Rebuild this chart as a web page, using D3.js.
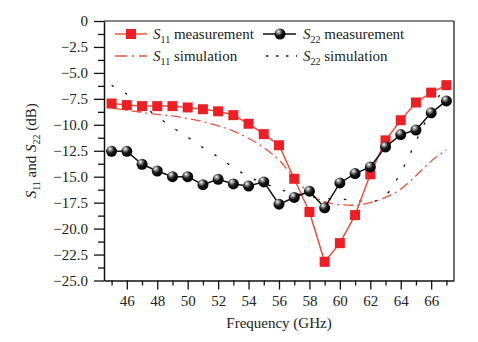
<!DOCTYPE html>
<html>
<head>
<meta charset="utf-8">
<script src="https://cdn.jsdelivr.net/npm/d3@7"></script>
<style>
  html, body { margin: 0; padding: 0; background: #fff; }
  svg { display: block; }
  text { font-family: "Liberation Serif", "Times New Roman", serif; fill: #222; }
</style>
</head>
<body>
<svg id="chart" width="478" height="342"></svg>
<script>
// Frequency points (GHz)
const freq = [45,46,47,48,49,50,51,52,53,54,55,56,57,58,59,60,61,62,63,64,65,66,67];

// Measured reflection coefficients (dB)
const s11Meas = [-7.95,-8.1,-8.2,-8.2,-8.2,-8.33,-8.5,-8.7,-9.07,-9.9,-10.9,-11.97,-15.2,-18.4,-23.2,-21.4,-18.7,-14.77,-11.5,-9.56,-7.85,-6.9,-6.18];
const s22Meas = [-12.55,-12.55,-13.8,-14.45,-15.0,-15.0,-15.77,-15.25,-15.7,-15.9,-15.5,-17.65,-17.0,-16.4,-18.0,-15.6,-14.7,-14.06,-12.13,-10.94,-10.5,-8.85,-7.7];

// Simulated reflection coefficients (dB)
const s11Sim = [-8.4,-8.6,-8.8,-9.0,-9.15,-9.4,-9.7,-10.1,-10.6,-11.3,-12.2,-13.4,-15.1,-16.6,-17.4,-17.7,-17.75,-17.5,-17.0,-16.2,-14.9,-13.5,-12.4];
const s22Sim = [-6.2,-7.05,-8.1,-9.2,-10.25,-11.2,-12.2,-13.1,-14.1,-15.0,-15.6,-16.2,-16.6,-16.9,-17.1,-17.15,-17.3,-17.4,-16.8,-14.6,-11.6,-8.6,-6.0];

// Axis ticks
const xMajorTicks = [46,48,50,52,54,56,58,60,62,64,66];
const xMinorTicks = [45,47,49,51,53,55,57,59,61,63,65,67];
const yMajorTicks = [0,-2.5,-5,-7.5,-10,-12.5,-15,-17.5,-20,-22.5,-25];
const yMinorTicks = [-1.25,-3.75,-6.25,-8.75,-11.25,-13.75,-16.25,-18.75,-21.25,-23.75];

const svg = d3.select("#chart");
const L = 104, R = 454, T = 21, B = 280.5;

const x = d3.scaleLinear().domain([44.5, 67.5]).range([L, R]);
const y = d3.scaleLinear().domain([-25, 0]).range([B, T]);

const RED = "#ee1f24";
const RED_LINE = "#f0503a";

// Sphere shading for the S22 markers
const defs = svg.append("defs");
const grad = defs.append("radialGradient").attr("id", "ball")
  .attr("cx", "38%").attr("cy", "32%").attr("r", "65%").attr("fx", "35%").attr("fy", "28%");
grad.append("stop").attr("offset", "0%").attr("stop-color", "#ffffff");
grad.append("stop").attr("offset", "22%").attr("stop-color", "#9a9a9a");
grad.append("stop").attr("offset", "55%").attr("stop-color", "#1a1a1a");
grad.append("stop").attr("offset", "100%").attr("stop-color", "#000000");

// Frame: top and right edges
svg.append("line").attr("x1", L).attr("x2", R).attr("y1", T).attr("y2", T)
  .attr("stroke", "#111").attr("stroke-width", 1.2);
svg.append("line").attr("x1", R).attr("x2", R).attr("y1", T).attr("y2", B)
  .attr("stroke", "#111").attr("stroke-width", 1.2);

// Axes
const fmtY = d => d === 0 ? "0" : d3.format(".1f")(d);

const yAxis = svg.append("g").attr("transform", `translate(${L},0)`)
  .call(d3.axisLeft(y).tickValues(yMajorTicks).tickFormat(fmtY).tickSize(10).tickPadding(6).tickSizeOuter(0));
svg.append("g").attr("transform", `translate(${L},0)`)
  .call(d3.axisLeft(y).tickValues(yMinorTicks).tickFormat("").tickSize(6).tickSizeOuter(0))
  .select(".domain").remove();

const xAxis = svg.append("g").attr("transform", `translate(0,${B})`)
  .call(d3.axisBottom(x).tickValues(xMajorTicks).tickFormat(d3.format("d")).tickSize(9).tickPadding(6).tickSizeOuter(0));
svg.append("g").attr("transform", `translate(0,${B})`)
  .call(d3.axisBottom(x).tickValues(xMinorTicks).tickFormat("").tickSize(5).tickSizeOuter(0))
  .select(".domain").remove();

svg.selectAll(".tick line").attr("stroke", "#111").attr("stroke-width", 1.3);
svg.selectAll(".domain").attr("stroke", "#111").attr("stroke-width", 1.5);
svg.selectAll(".tick text").attr("font-family", "Liberation Serif, serif").attr("font-size", 15).attr("fill", "#222");

// Axis titles
svg.append("text").attr("x", (L + R) / 2).attr("y", 328).attr("text-anchor", "middle")
  .attr("font-size", 15).text("Frequency (GHz)");

const yl = svg.append("text").attr("transform", `translate(36,${(T + B) / 2}) rotate(-90)`)
  .attr("text-anchor", "middle").attr("font-size", 15);
function sParam(t, sub, rest) {
  t.append("tspan").attr("font-style", "italic").text("S");
  t.append("tspan").attr("font-size", 10).attr("dy", 4).text(sub);
  t.append("tspan").attr("dy", -4).text(rest);
}
sParam(yl, "11", " and ");
yl.append("tspan").attr("font-style", "italic").text("S");
yl.append("tspan").attr("font-size", 10).attr("dy", 4).text("22");
yl.append("tspan").attr("dy", -4).text(" (dB)");

// Series
const pts = vals => freq.map((f, i) => [f, vals[i]]);
const line = d3.line().x(d => x(d[0])).y(d => y(d[1]));
const smooth = d3.line().x(d => x(d[0])).y(d => y(d[1])).curve(d3.curveMonotoneX);

svg.append("path").datum(pts(s22Sim)).attr("d", smooth)
  .attr("fill", "none").attr("stroke", "#111").attr("stroke-width", 1.3)
  .attr("stroke-dasharray", "2.5,13");
svg.append("path").datum(pts(s11Sim)).attr("d", smooth)
  .attr("fill", "none").attr("stroke", RED_LINE).attr("stroke-width", 1.3)
  .attr("stroke-dasharray", "10,4,2,4");

svg.append("path").datum(pts(s11Meas)).attr("d", line)
  .attr("fill", "none").attr("stroke", RED_LINE).attr("stroke-width", 1.5);
svg.selectAll("rect.s11").data(pts(s11Meas)).enter().append("rect").attr("class", "s11")
  .attr("x", d => x(d[0]) - 5).attr("y", d => y(d[1]) - 5)
  .attr("width", 10).attr("height", 10).attr("fill", RED);

svg.append("path").datum(pts(s22Meas)).attr("d", line)
  .attr("fill", "none").attr("stroke", "#111").attr("stroke-width", 1.5);
svg.selectAll("circle.s22").data(pts(s22Meas)).enter().append("circle").attr("class", "s22")
  .attr("cx", d => x(d[0])).attr("cy", d => y(d[1])).attr("r", 5.5).attr("fill", "url(#ball)");

// Legend
const legend = svg.append("g");
function legendText(xp, yp, sub, rest) {
  const t = legend.append("text").attr("x", xp).attr("y", yp + 5).attr("font-size", 15);
  sParam(t, sub, rest);
}
// S11 measurement
legend.append("line").attr("x1", 115).attr("x2", 147).attr("y1", 34).attr("y2", 34)
  .attr("stroke", RED_LINE).attr("stroke-width", 1.5);
legend.append("rect").attr("x", 126).attr("y", 29).attr("width", 10).attr("height", 10).attr("fill", RED);
legendText(153, 34, "11", " measurement");
// S11 simulation
legend.append("line").attr("x1", 115).attr("x2", 147).attr("y1", 56).attr("y2", 56)
  .attr("stroke", RED_LINE).attr("stroke-width", 1.3).attr("stroke-dasharray", "12,5,2,5");
legendText(153, 56, "11", " simulation");
// S22 measurement
legend.append("line").attr("x1", 263).attr("x2", 296).attr("y1", 34).attr("y2", 34)
  .attr("stroke", "#111").attr("stroke-width", 1.5);
legend.append("circle").attr("cx", 280).attr("cy", 34).attr("r", 5.5).attr("fill", "url(#ball)");
legendText(303, 34, "22", " measurement");
// S22 simulation
legend.append("line").attr("x1", 266).attr("x2", 297).attr("y1", 56).attr("y2", 56)
  .attr("stroke", "#111").attr("stroke-width", 1.3).attr("stroke-dasharray", "2.5,7.5");
legendText(303, 56, "22", " simulation");
</script>
</body>
</html>
